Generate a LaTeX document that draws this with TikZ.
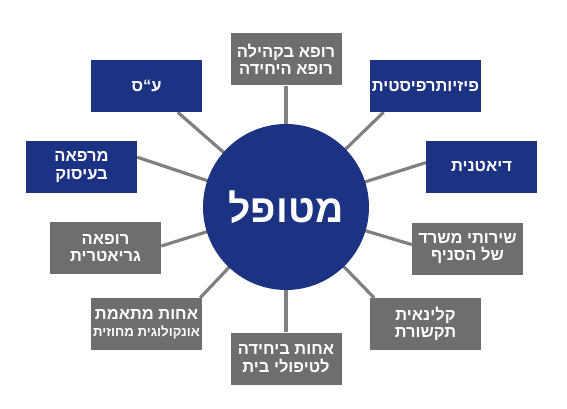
\documentclass[tikz,border=0pt]{standalone}
\usepackage{fontspec}
\newfontfamily\hebfont[Script=Hebrew]{Liberation Sans}
\TeXXeTstate=1
\usetikzlibrary{backgrounds}
\newcommand{\heb}[1]{\beginR #1\endR}
\definecolor{navy}{RGB}{28,50,130}
\definecolor{slate}{RGB}{110,110,110}
\definecolor{spokegray}{RGB}{128,128,128}

\begin{document}
\begin{tikzpicture}[x=1pt, y=-1pt,
    every node/.style={text=white, align=center},
    role/.style={minimum width=111pt, minimum height=52pt, inner sep=0pt,
                 font=\hebfont\bfseries\fontsize{16.5}{17.5}\selectfont},
    ext/.style={role, fill=navy},
    unit/.style={role, fill=slate},
    hub/.style={circle, fill=navy, minimum size=166pt, inner sep=0pt,
                font=\hebfont\bfseries\fontsize{39}{39}\selectfont},
    spoke/.style={line width=3.2pt, draw=spokegray},
  ]
    \useasboundingbox (0,0) rectangle (567,409);

    % patient in the middle
    \node[hub] (pt) at (286,207) {\heb{מטופל}};

    % blue: allied staff
    \node[ext] (sw)   at (146.5,86)   {\heb{ע“ס}};
    \node[ext] (pht)  at (425.5,86)   {\heb{פיזיותרפיסטית}};
    \node[ext] (ot)   at (81.5,167)   {\heb{מרפאה}\\\heb{בעיסוק}};
    \node[ext] (diet) at (481.5,166.5) {\heb{דיאטנית}};

    % grey: doctors, nurses, office
    \node[unit] (gp)     at (286,59.5)   {\heb{רופא בקהילה}\\\heb{רופא היחידה}};
    \node[unit] (geri)   at (105.5,248)  {\heb{רופאה}\\\heb{גריאטרית}};
    \node[unit] (office) at (467.5,248.5) {\heb{שירותי משרד}\\\heb{של הסניף}};
    \node[unit] (onc)    at (146.5,324)  {\heb{אחות מתאמת}\\{\fontsize{13.2}{16}\selectfont\heb{אונקולוגית מחוזית}}};
    \node[unit] (slp)    at (425.5,324)  {\heb{קלינאית}\\\heb{תקשורת}};
    \node[unit] (home)   at (286,358.5)  {\heb{אחות ביחידה}\\\heb{לטיפולי בית}};

    % spokes
    \begin{scope}[on background layer]
      \draw[spoke] (pt.center) -- (gp.south);
      \draw[spoke] (pt.center) -- (sw.-40);
      \draw[spoke] (pt.center) -- (pht.-148);
      \draw[spoke] (pt.center) -- (ot.10);
      \draw[spoke] (pt.center) -- (diet.176);
      \draw[spoke] (pt.center) -- (geri.2);
      \draw[spoke] (pt.center) -- (office.176);
      \draw[spoke] (pt.center) -- (onc.26);
      \draw[spoke] (pt.center) -- (slp.153);
      \draw[spoke] (pt.center) -- (home.north);
    \end{scope}
\end{tikzpicture}
\end{document}
